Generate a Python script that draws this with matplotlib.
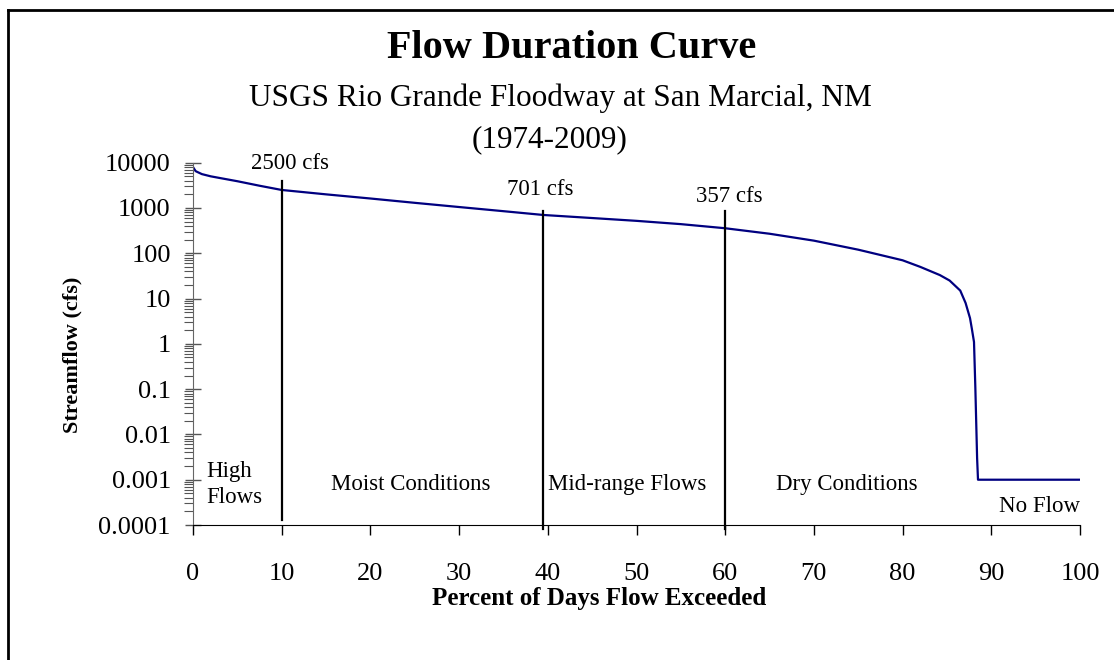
import numpy as np
import matplotlib
matplotlib.use("Agg")
import matplotlib.pyplot as plt
from matplotlib.lines import Line2D
from matplotlib.ticker import LogLocator, NullFormatter

plt.rcParams['font.family'] = ['Liberation Serif', 'DejaVu Serif']

# flow duration curve
pct_exceeded = [0, 0.3, 1, 2, 3, 5, 7.5, 10, 15, 20, 25, 30, 35, 39.5, 45, 50, 55,
                60, 65, 70, 75, 80, 82, 84.2, 85.3, 86.5, 87.1, 87.6, 87.8,
                88.05, 88.2, 88.4, 88.5, 100]
flow_cfs = [8000, 6500, 5600, 5000, 4600, 3900, 3100, 2500, 2000, 1620, 1300, 1050,
            850, 701, 600, 520, 440, 357, 270, 190, 120, 70, 50, 33, 25, 15, 8,
            3.7, 2.2, 1.1, 0.11, 0.003, 0.001, 0.001]

# threshold lines: x, bottom, top
marker_x = [10, 39.5, 60]
marker_lo = [1.3e-4, 8e-5, 8e-5]
marker_hi = [3900, 850, 850]
marker_labels = ["2500 cfs", "701 cfs", "357 cfs"]
marker_label_pos = [(10.9, 9500), (39.1, 2500), (60.5, 1800)]

zone_labels = ["High\nFlows", "Moist Conditions", "Mid-range Flows", "Dry Conditions", "No Flow"]
zone_x = [1.5, 24.5, 48.9, 73.7, 100]

yticks = [1e-4, 1e-3, 1e-2, 1e-1, 1, 10, 100, 1000, 10000]
ytick_labels = ["0.0001", "0.001", "0.01", "0.1", "1", "10", "100", "1000", "10000"]
xticks = list(range(0, 101, 10))

fig = plt.figure(figsize=(11.14, 6.6), dpi=100)
ax = fig.add_axes([193 / 1114, 1 - 525 / 660, (1080 - 193) / 1114, (525 - 162.7) / 660])

ax.plot(pct_exceeded, flow_cfs, color='#000080', lw=1.6)

for x, lo, hi in zip(marker_x, marker_lo, marker_hi):
    ax.plot([x, x], [lo, hi], color='black', lw=1.6, clip_on=False)
for lab, (x, y) in zip(marker_labels, marker_label_pos):
    ax.text(x, y, lab, ha='center', va='center', fontsize=16.5)

for lab, x in zip(zone_labels, zone_x):
    if lab == "No Flow":
        ax.text(x, 2.6e-4, lab, ha='right', va='center', fontsize=16.5)
    elif lab.startswith("High"):
        ax.text(x, 7.7e-4, lab, ha='left', va='center', fontsize=16.5, linespacing=1.3)
    else:
        ax.text(x, 7.9e-4, lab, ha='center', va='center', fontsize=16.5)

ax.set_yscale('log')
ax.set_xlim(0, 100)
ax.set_ylim(1e-4, 1e4)
ax.set_yticks(yticks)
ax.set_yticklabels(ytick_labels)
ax.yaxis.set_minor_locator(LogLocator(base=10, subs=np.arange(2, 10), numticks=100))
ax.yaxis.set_minor_formatter(NullFormatter())
ax.set_xticks(xticks)
ax.tick_params(axis='y', which='major', direction='inout', length=12, width=1,
               labelsize=19, pad=10, color='#555555')
ax.tick_params(axis='y', which='minor', direction='out', length=6.5, width=0.8, color='#555555')
ax.tick_params(axis='x', which='major', direction='out', length=7, width=1,
               labelsize=19, pad=20)
ax.spines['top'].set_visible(False)
ax.spines['right'].set_visible(False)
ax.spines['left'].set_color('#666666')

fig.text(72 / 1114, 1 - 355 / 660, "Streamflow (cfs)", rotation=90, ha='center', va='center',
         fontsize=16, fontweight='bold')
fig.text(599 / 1114, 1 - 599 / 660, "Percent of Days Flow Exceeded", ha='center', va='center',
         fontsize=18, fontweight='bold')

fig.text(572 / 1114, 1 - 48 / 660, "Flow Duration Curve", ha='center', va='center',
         fontsize=29, fontweight='bold')
fig.text(560 / 1114, 1 - 98 / 660, "USGS Rio Grande Floodway at San Marcial, NM", ha='center',
         va='center', fontsize=22.5)
fig.text(550 / 1114, 1 - 140 / 660, "(1974-2009)", ha='center', va='center', fontsize=22.5)

# outer frame (top and left edges visible in the crop)
fig.add_artist(Line2D([8 / 1114, 8 / 1114], [0, 1 - 10 / 660], transform=fig.transFigure,
                      color='black', lw=2))
fig.add_artist(Line2D([8 / 1114, 1], [1 - 10 / 660, 1 - 10 / 660], transform=fig.transFigure,
                      color='black', lw=2))

fig.savefig("out.png", dpi=100)
